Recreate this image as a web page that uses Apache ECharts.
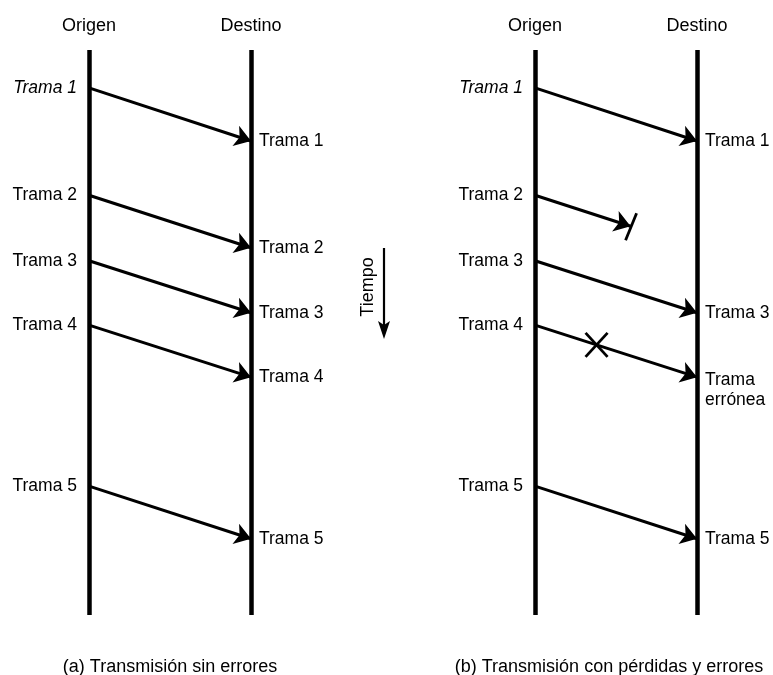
<!DOCTYPE html>
<html><head><meta charset="utf-8">
<script src="https://cdn.jsdelivr.net/npm/echarts@6/dist/echarts.min.js"></script>
<style>html,body{margin:0;padding:0;background:#fff}#c{width:773px;height:675px}</style>
</head><body><div id="c"></div>
<script>
// ---- data ----
const lanes = ['Origen', 'Destino'];
const frames = ['Trama 1', 'Trama 2', 'Trama 3', 'Trama 4', 'Trama 5'];
const sendTimes = [6.7, 25.7, 37.3, 48.7, 77.2];
const recvTimes = [16.1, 35.0, 46.5, 57.9, 86.5];
const outcomesA = ['ok', 'ok', 'ok', 'ok', 'ok'];
const outcomesB = ['ok', 'lost', 'ok', 'error', 'ok'];
const lossAt = 0.59;   // fraction of the way across where frame is lost
const errorAt = 0.38;  // fraction of the way across where frame is corrupted
const errorLabel = 'Trama\nerrónea';
const captions = ['(a) Transmisión sin errores', '(b) Transmisión con pérdidas y errores'];
const timeLabel = 'Tiempo';
const lifeline = [0, 100];

// ---- chart ----
const FONT = '"Liberation Sans", Arial, Helvetica, sans-serif';
const INK = '#000';
const chart = echarts.init(document.getElementById('c'), null, {renderer: 'canvas'});

const grids = [
  {left: 89, top: 50, width: 162, height: 565},
  {left: 535, top: 50, width: 162, height: 565}
];
const xAxes = grids.map((g, i) => ({
  gridIndex: i, type: 'value', min: 0, max: 1, interval: 1, position: 'top',
  axisLine: {show: false}, axisTick: {show: false}, splitLine: {show: false},
  axisLabel: {show: true, showMinLabel: true, showMaxLabel: true, margin: 15,
    formatter: v => lanes[v] || '', fontSize: 18, fontFamily: FONT, color: INK}
}));
const yAxes = grids.map((g, i) => ({
  gridIndex: i, type: 'value', min: lifeline[0], max: lifeline[1], inverse: true, show: false
}));

function txt(extra) {
  return Object.assign({show: true, fontSize: 17.5, fontFamily: FONT, color: INK, opacity: 1}, extra);
}

function panelSeries(p, outcomes) {
  const series = [];
  // lifelines
  series.push({
    type: 'lines', coordinateSystem: 'cartesian2d', xAxisIndex: p, yAxisIndex: p,
    silent: true, symbol: 'none',
    lineStyle: {color: INK, width: 4.5, opacity: 1},
    data: lanes.map((l, k) => ({coords: [[k, lifeline[0]], [k, lifeline[1]]]}))
  });
  // arrows
  series.push({
    type: 'lines', coordinateSystem: 'cartesian2d', xAxisIndex: p, yAxisIndex: p,
    silent: true, symbol: ['none', 'arrow'], symbolSize: [0, 16],
    lineStyle: {color: INK, width: 3, opacity: 1},
    itemStyle: {color: INK},
    data: frames.map((f, i) => {
      const s = sendTimes[i], r = recvTimes[i];
      const end = outcomes[i] === 'lost' ? [lossAt, s + lossAt * (r - s)] : [1, r];
      return {coords: [[0, s], end]};
    })
  });
  // labels
  const lab = [];
  frames.forEach((f, i) => {
    lab.push({value: [0, sendTimes[i]], label: txt({formatter: f, position: 'left', distance: 12,
      fontStyle: i === 0 ? 'italic' : 'normal'})});
    if (outcomes[i] === 'ok') {
      lab.push({value: [1, recvTimes[i]], label: txt({formatter: f, position: 'right', distance: 8})});
    } else if (outcomes[i] === 'error') {
      lab.push({value: [1, recvTimes[i]], label: txt({formatter: errorLabel, position: 'right',
        distance: 8, offset: [0, 13], lineHeight: 20, align: 'left'})});
    }
  });
  series.push({
    type: 'scatter', xAxisIndex: p, yAxisIndex: p, symbolSize: 0, silent: true, clip: false,
    itemStyle: {color: INK, opacity: 1},
    label: txt({}),
    emphasis: {disabled: true},
    data: lab
  });
  // loss / error marks
  const marks = [];
  frames.forEach((f, i) => {
    const s = sendTimes[i], r = recvTimes[i];
    if (outcomes[i] === 'lost') marks.push([lossAt, s + lossAt * (r - s), 0]);
    if (outcomes[i] === 'error') marks.push([errorAt, s + errorAt * (r - s), 1]);
  });
  if (marks.length) {
    series.push({
      type: 'custom', xAxisIndex: p, yAxisIndex: p, silent: true, clip: false,
      data: marks,
      renderItem: (params, api) => {
        const c = api.coord([api.value(0), api.value(1)]);
        const st = {stroke: INK, lineWidth: 2.8};
        if (api.value(2) === 0) {
          return {type: 'line', shape: {x1: c[0] - 5, y1: c[1] + 14, x2: c[0] + 6, y2: c[1] - 13}, style: st};
        }
        return {type: 'group', children: [
          {type: 'line', shape: {x1: c[0] - 11, y1: c[1] - 12, x2: c[0] + 11, y2: c[1] + 12}, style: st},
          {type: 'line', shape: {x1: c[0] + 11, y1: c[1] - 12, x2: c[0] - 11, y2: c[1] + 12}, style: st}
        ]};
      }
    });
  }
  return series;
}

const option = {
  backgroundColor: '#fff',
  animation: false,
  grid: grids,
  xAxis: xAxes,
  yAxis: yAxes,
  series: [].concat(panelSeries(0, outcomesA), panelSeries(1, outcomesB)),
  graphic: [
    {type: 'text', x: 170, y: 667, style: {text: captions[0], font: '18px ' + FONT, fill: INK,
      textAlign: 'center', textVerticalAlign: 'middle'}},
    {type: 'text', x: 609, y: 667, style: {text: captions[1], font: '18px ' + FONT, fill: INK,
      textAlign: 'center', textVerticalAlign: 'middle'}},
    {type: 'text', x: 368, y: 287, rotation: Math.PI / 2, style: {text: timeLabel, font: '18px ' + FONT,
      fill: INK, textAlign: 'center', textVerticalAlign: 'middle'}},
    {type: 'line', shape: {x1: 384, y1: 248, x2: 384, y2: 328}, style: {stroke: INK, lineWidth: 2.2}},
    {type: 'polygon', shape: {points: [[384, 339], [378, 321], [384, 325], [390, 321]]}, style: {fill: INK}}
  ]
};
chart.setOption(option);
</script>
</body></html>
